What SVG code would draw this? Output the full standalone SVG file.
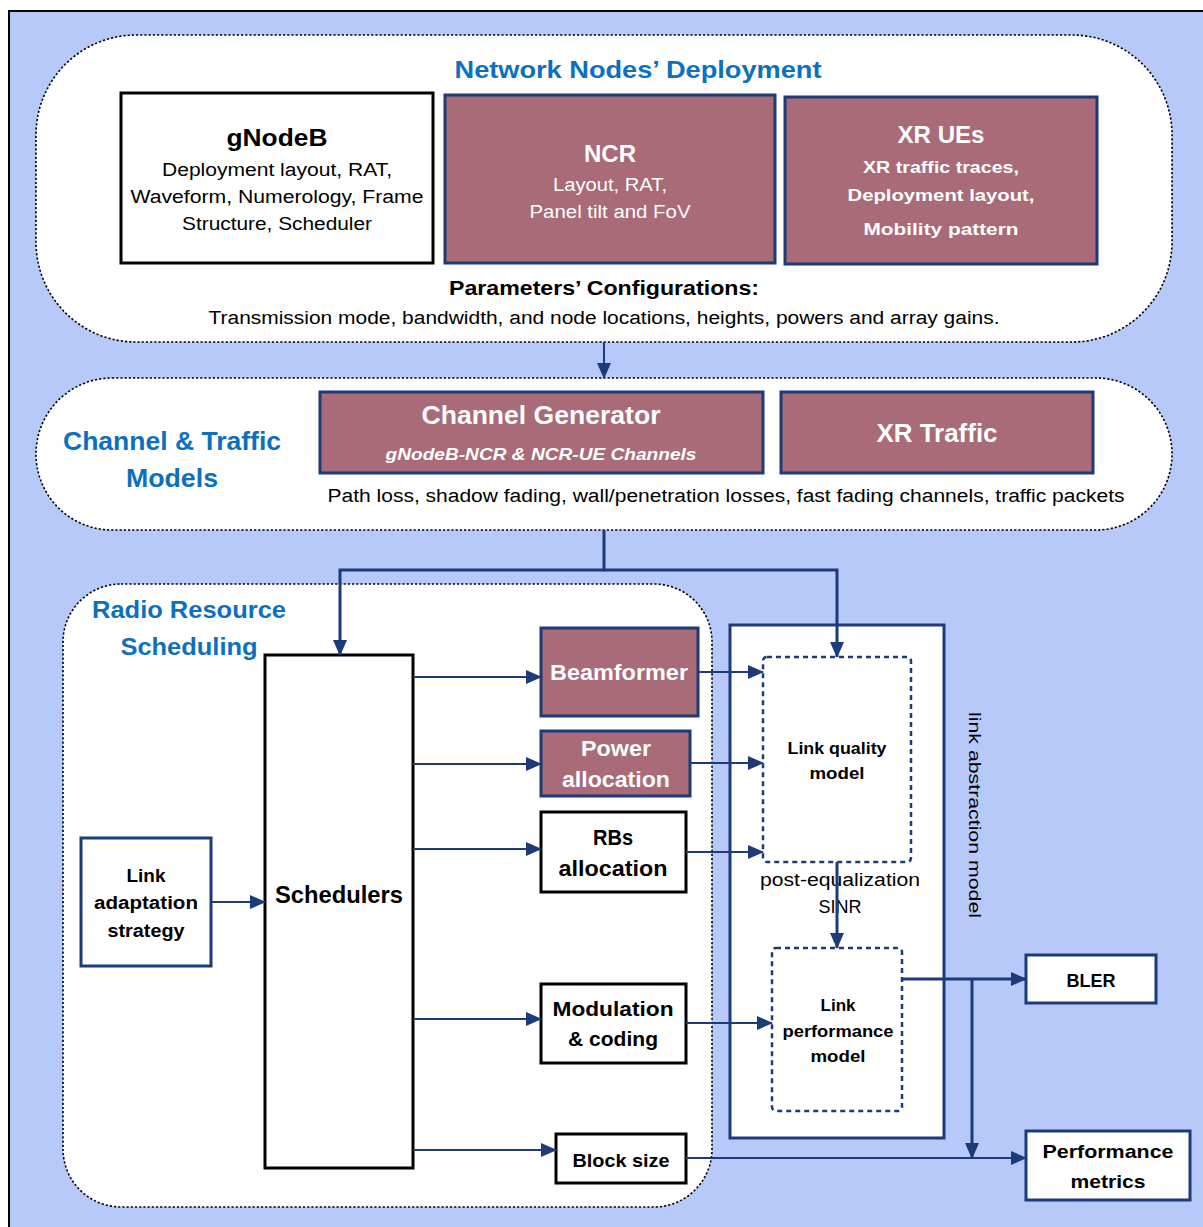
<svg xmlns="http://www.w3.org/2000/svg" width="1203" height="1227" viewBox="0 0 1203 1227">
  <defs>
    <marker id="arrow" markerUnits="userSpaceOnUse" markerWidth="16" markerHeight="14" refX="15" refY="7" orient="auto">
      <path d="M0,0 L16,7 L0,14 Z" fill="#1c3b78"/>
    </marker>
    <style>
      text { font-family: "Liberation Sans", Arial, sans-serif; text-anchor: middle; }
      .pill { fill: #ffffff; stroke: #000000; stroke-width: 1.6; stroke-dasharray: 2.2 2; }
      .plain { fill: #ffffff; stroke: #000000; stroke-width: 3; }
      .mauve { fill: #a86b77; stroke: #1c3b78; stroke-width: 3; }
      .navybox { fill: #ffffff; stroke: #1c3b78; stroke-width: 3; }
      .dashbox { fill: #ffffff; stroke: #1c3b78; stroke-width: 2.5; stroke-dasharray: 5 4; }
      .title { fill: #0b70c0; font-weight: bold; }
      .w { fill: #ffffff; }
      .k { fill: #000000; }
      .b { font-weight: bold; }
      .conn { fill: none; stroke: #1c3b78; stroke-width: 2; }
      .connw { fill: none; stroke: #1c3b78; stroke-width: 3; }
    </style>
  </defs>

  <!-- frame -->
  <rect x="0" y="0" width="1203" height="1227" fill="#ffffff"/>
  <rect x="9" y="11" width="1300" height="1300" fill="#b7c9f8" stroke="#000000" stroke-width="2"/>

  <!-- deployment stage -->
  <g id="deployment">
    <rect class="pill" x="36" y="35" width="1136" height="307" rx="100" ry="100"/>
    <text class="title" x="638" y="78" font-size="24" textLength="367" lengthAdjust="spacingAndGlyphs">Network Nodes’ Deployment</text>
    <text class="k b" x="604" y="295" font-size="20" textLength="310" lengthAdjust="spacingAndGlyphs">Parameters’ Configurations:</text>
    <text class="k" x="604" y="324" font-size="18" textLength="791" lengthAdjust="spacingAndGlyphs">Transmission mode, bandwidth, and node locations, heights, powers and array gains.</text>
  </g>
  <g id="gnodeb">
    <rect class="plain" x="121" y="93" width="312" height="170"/>
    <text class="k b" x="277" y="146" font-size="24" textLength="101" lengthAdjust="spacingAndGlyphs">gNodeB</text>
    <text class="k" x="277" y="176" font-size="18" textLength="230" lengthAdjust="spacingAndGlyphs">Deployment layout, RAT,</text>
    <text class="k" x="277" y="203" font-size="18" textLength="293" lengthAdjust="spacingAndGlyphs">Waveform, Numerology, Frame</text>
    <text class="k" x="277" y="230" font-size="18" textLength="190" lengthAdjust="spacingAndGlyphs">Structure, Scheduler</text>
  </g>
  <g id="ncr">
    <rect class="mauve" x="445" y="95" width="330" height="168"/>
    <text class="w b" x="610" y="162" font-size="24" textLength="52" lengthAdjust="spacingAndGlyphs">NCR</text>
    <text class="w" x="610" y="191" font-size="18" textLength="114" lengthAdjust="spacingAndGlyphs">Layout, RAT,</text>
    <text class="w" x="610" y="218" font-size="18" textLength="161" lengthAdjust="spacingAndGlyphs">Panel tilt and FoV</text>
  </g>
  <g id="xr-ues">
    <rect class="mauve" x="785" y="97" width="312" height="167"/>
    <text class="w b" x="941" y="143" font-size="24" textLength="87" lengthAdjust="spacingAndGlyphs">XR UEs</text>
    <text class="w b" x="941" y="173" font-size="17" textLength="156" lengthAdjust="spacingAndGlyphs">XR traffic traces,</text>
    <text class="w b" x="941" y="201" font-size="17" textLength="187" lengthAdjust="spacingAndGlyphs">Deployment layout,</text>
    <text class="w b" x="941" y="235" font-size="17" textLength="155" lengthAdjust="spacingAndGlyphs">Mobility pattern</text>
  </g>

  <!-- channel and traffic stage -->
  <g id="channel-traffic">
    <rect class="pill" x="36" y="378" width="1136" height="152" rx="76" ry="76"/>
    <text class="title" x="172" y="450" font-size="25" textLength="218" lengthAdjust="spacingAndGlyphs">Channel &amp; Traffic</text>
    <text class="title" x="172" y="487" font-size="25" textLength="92" lengthAdjust="spacingAndGlyphs">Models</text>
    <text class="k" x="726" y="502" font-size="18" textLength="797" lengthAdjust="spacingAndGlyphs">Path loss, shadow fading, wall/penetration losses, fast fading channels, traffic packets</text>
  </g>
  <g id="channel-generator">
    <rect class="mauve" x="320" y="392" width="443" height="81"/>
    <text class="w b" x="541" y="424" font-size="25" textLength="239" lengthAdjust="spacingAndGlyphs">Channel Generator</text>
    <text class="w b" x="541" y="460" font-size="17" font-style="italic" textLength="311" lengthAdjust="spacingAndGlyphs">gNodeB-NCR &amp; NCR-UE Channels</text>
  </g>
  <g id="xr-traffic">
    <rect class="mauve" x="781" y="392" width="312" height="81"/>
    <text class="w b" x="937" y="442" font-size="25" textLength="121" lengthAdjust="spacingAndGlyphs">XR Traffic</text>
  </g>

  <!-- radio resource scheduling stage -->
  <g id="rrs">
    <rect class="pill" x="63" y="584" width="649" height="623" rx="58" ry="58"/>
    <text class="title" x="189" y="618" font-size="24" textLength="194" lengthAdjust="spacingAndGlyphs">Radio Resource</text>
    <text class="title" x="189" y="655" font-size="24" textLength="137" lengthAdjust="spacingAndGlyphs">Scheduling</text>
  </g>
  <g id="schedulers">
    <rect class="plain" x="265" y="655" width="148" height="513"/>
    <text class="k b" x="339" y="903" font-size="23" textLength="128" lengthAdjust="spacingAndGlyphs">Schedulers</text>
  </g>
  <g id="link-adaptation">
    <rect class="navybox" x="81" y="838" width="130" height="128" stroke-width="2.5"/>
    <text class="k b" x="146" y="882" font-size="18" textLength="39" lengthAdjust="spacingAndGlyphs">Link</text>
    <text class="k b" x="146" y="909" font-size="18" textLength="104" lengthAdjust="spacingAndGlyphs">adaptation</text>
    <text class="k b" x="146" y="937" font-size="18" textLength="77" lengthAdjust="spacingAndGlyphs">strategy</text>
  </g>
  <g id="beamformer">
    <rect class="mauve" x="541" y="628" width="157" height="88"/>
    <text class="w b" x="619" y="680" font-size="22" textLength="138" lengthAdjust="spacingAndGlyphs">Beamformer</text>
  </g>
  <g id="power-allocation">
    <rect class="mauve" x="541" y="731" width="149" height="65"/>
    <text class="w b" x="616" y="756" font-size="22" textLength="70" lengthAdjust="spacingAndGlyphs">Power</text>
    <text class="w b" x="616" y="787" font-size="22" textLength="108" lengthAdjust="spacingAndGlyphs">allocation</text>
  </g>
  <g id="rbs-allocation">
    <rect class="plain" x="541" y="812" width="145" height="80"/>
    <text class="k b" x="613" y="845" font-size="22" textLength="40" lengthAdjust="spacingAndGlyphs">RBs</text>
    <text class="k b" x="613" y="876" font-size="22" textLength="109" lengthAdjust="spacingAndGlyphs">allocation</text>
  </g>
  <g id="modulation-coding">
    <rect class="plain" x="541" y="984" width="145" height="79"/>
    <text class="k b" x="613" y="1016" font-size="21" textLength="121" lengthAdjust="spacingAndGlyphs">Modulation</text>
    <text class="k b" x="613" y="1046" font-size="21" textLength="90" lengthAdjust="spacingAndGlyphs">&amp; coding</text>
  </g>
  <g id="block-size">
    <rect class="plain" x="556" y="1134" width="130" height="49"/>
    <text class="k b" x="621" y="1167" font-size="19" textLength="97" lengthAdjust="spacingAndGlyphs">Block size</text>
  </g>

  <!-- link abstraction -->
  <g id="link-abstraction">
    <rect class="navybox" x="730" y="625" width="214" height="513"/>
    <text class="k" transform="translate(969,815) rotate(90)" x="0" y="0" font-size="17" textLength="206" lengthAdjust="spacingAndGlyphs">link abstraction model</text>
    <text class="k" x="840" y="886" font-size="18" textLength="160" lengthAdjust="spacingAndGlyphs">post-equalization</text>
    <text class="k" x="840" y="913" font-size="18" textLength="43" lengthAdjust="spacingAndGlyphs">SINR</text>
  </g>
  <g id="link-quality">
    <rect class="dashbox" x="763" y="657" width="148" height="205" rx="4"/>
    <text class="k b" x="837" y="754" font-size="16" textLength="99" lengthAdjust="spacingAndGlyphs">Link quality</text>
    <text class="k b" x="837" y="779" font-size="16" textLength="55" lengthAdjust="spacingAndGlyphs">model</text>
  </g>
  <g id="link-performance">
    <rect class="dashbox" x="772" y="948" width="130" height="163" rx="4"/>
    <text class="k b" x="838" y="1011" font-size="16" textLength="35" lengthAdjust="spacingAndGlyphs">Link</text>
    <text class="k b" x="838" y="1037" font-size="16" textLength="111" lengthAdjust="spacingAndGlyphs">performance</text>
    <text class="k b" x="838" y="1062" font-size="16" textLength="55" lengthAdjust="spacingAndGlyphs">model</text>
  </g>

  <!-- outputs -->
  <g id="bler">
    <rect class="navybox" x="1026" y="955" width="130" height="48"/>
    <text class="k b" x="1091" y="987" font-size="19" textLength="49" lengthAdjust="spacingAndGlyphs">BLER</text>
  </g>
  <g id="performance-metrics">
    <rect class="navybox" x="1026" y="1131" width="164" height="69"/>
    <text class="k b" x="1108" y="1158" font-size="19" textLength="131" lengthAdjust="spacingAndGlyphs">Performance</text>
    <text class="k b" x="1108" y="1188" font-size="19" textLength="75" lengthAdjust="spacingAndGlyphs">metrics</text>
  </g>

  <!-- connectors -->
  <g id="connectors">
    <path class="conn" d="M604,342 L604,378" marker-end="url(#arrow)"/>
    <path class="connw" d="M604,530 L604,570 L340,570 L340,655" marker-end="url(#arrow)"/>
    <path class="connw" d="M604,570 L837,570 L837,657" marker-end="url(#arrow)"/>
    <path class="conn" d="M211,902 L265,902" marker-end="url(#arrow)"/>
    <path class="conn" d="M413,677 L541,677" marker-end="url(#arrow)"/>
    <path class="conn" d="M413,764 L541,764" marker-end="url(#arrow)"/>
    <path class="conn" d="M413,849 L541,849" marker-end="url(#arrow)"/>
    <path class="conn" d="M413,1019 L541,1019" marker-end="url(#arrow)"/>
    <path class="conn" d="M413,1150 L556,1150" marker-end="url(#arrow)"/>
    <path class="conn" d="M698,672 L763,672" marker-end="url(#arrow)"/>
    <path class="conn" d="M690,763 L763,763" marker-end="url(#arrow)"/>
    <path class="conn" d="M686,852 L763,852" marker-end="url(#arrow)"/>
    <path class="connw" d="M837,862 L837,948" marker-end="url(#arrow)"/>
    <path class="conn" d="M686,1023 L772,1023" marker-end="url(#arrow)"/>
    <path class="connw" d="M902,979 L1026,979" marker-end="url(#arrow)"/>
    <path class="connw" d="M972,979 L972,1158" marker-end="url(#arrow)"/>
    <path class="conn" d="M686,1158 L1026,1158" marker-end="url(#arrow)"/>
  </g>
</svg>
